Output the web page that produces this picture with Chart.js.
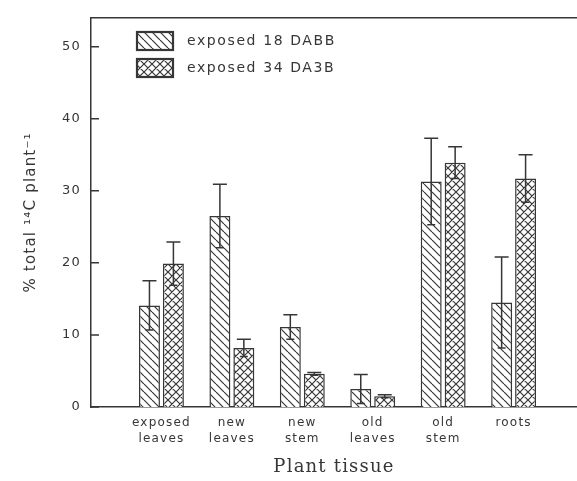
<!DOCTYPE html>
<html>
<head>
<meta charset="utf-8">
<script src="https://cdn.jsdelivr.net/npm/chart.js@4.4.1/dist/chart.umd.min.js"></script>
<style>
  html, body { margin: 0; background: #fff; }
  canvas { display: block; }
</style>
</head>
<body>
<canvas id="tissueChart" width="577" height="481"></canvas>
<script>
const tissues = [['exposed', 'leaves'], ['new', 'leaves'], ['new', 'stem'], ['old', 'leaves'], ['old', 'stem'], 'roots'];
const seriesNames = ['exposed 18 DABB', 'exposed 34 DA3B'];
const mean18 = [14.1, 26.5, 11.1, 2.5, 31.3, 14.5];
const err18 = [3.4, 4.4, 1.7, 2.0, 6.0, 6.3];
const mean34 = [19.9, 8.2, 4.6, 1.5, 33.9, 31.7];
const err34 = [3.0, 1.2, 0.2, 0.2, 2.2, 3.3];
const yTicks = [0, 10, 20, 30, 40, 50];

const INK = '#363636';

// hatch fills: "\" for 18 DABB, crosshatch for 34 DA3B
function makePattern(cross) {
  const s = 8;
  const c = document.createElement('canvas');
  c.width = c.height = s;
  const g = c.getContext('2d');
  g.fillStyle = '#fff';
  g.fillRect(0, 0, s, s);
  g.strokeStyle = INK;
  g.lineWidth = 1.2;
  g.beginPath();
  for (const k of [-s, 0, s]) {
    g.moveTo(k, 0); g.lineTo(k + s, s);
    if (cross) { g.moveTo(k, s); g.lineTo(k + s, 0); }
  }
  g.stroke();
  return g.createPattern(c, 'repeat');
}
const hatch = makePattern(false);
const crossHatch = makePattern(true);

const errorBars = {
  id: 'errorBars',
  afterDatasetsDraw(chart) {
    const { ctx, scales: { y } } = chart;
    ctx.save();
    ctx.strokeStyle = INK;
    ctx.lineWidth = 1.5;
    chart.data.datasets.forEach((ds, di) => {
      chart.getDatasetMeta(di).data.forEach((bar, i) => {
        const v = ds.data[i].y, e = ds.errors[i];
        const top = y.getPixelForValue(v + e);
        const bot = y.getPixelForValue(v - e);
        ctx.beginPath();
        ctx.moveTo(bar.x, top); ctx.lineTo(bar.x, bot);
        ctx.moveTo(bar.x - 7, top); ctx.lineTo(bar.x + 7, top);
        ctx.moveTo(bar.x - 4, bot); ctx.lineTo(bar.x + 4, bot);
        ctx.stroke();
      });
    });
    ctx.restore();
  },
};

const frame = {
  id: 'frame',
  beforeDraw(chart) {
    chart.ctx.letterSpacing = '1.2px';
  },
  afterDraw(chart) {
    const { ctx, chartArea: a, scales: { y } } = chart;
    ctx.save();
    ctx.strokeStyle = INK;
    ctx.lineWidth = 1.5;
    ctx.beginPath();
    ctx.moveTo(a.left, a.top); ctx.lineTo(a.right, a.top);
    yTicks.forEach(v => {
      const py = y.getPixelForValue(v);
      ctx.moveTo(a.left, py); ctx.lineTo(a.left + 8, py);
    });
    ctx.stroke();

    // legend in the upper left of the plot
    ctx.letterSpacing = '1.6px';
    ctx.font = '14px "DejaVu Sans"';
    ctx.textBaseline = 'middle';
    chart.data.datasets.forEach((ds, i) => {
      const by = 32 + i * 27;
      ctx.fillStyle = ds.backgroundColor;
      ctx.fillRect(137, by, 36, 18);
      ctx.lineWidth = 2.2;
      ctx.strokeRect(137, by, 36, 18);
      ctx.fillStyle = INK;
      ctx.fillText(ds.label, 187, by + 9.5);
    });
    ctx.restore();
  },
};

new Chart(document.getElementById('tissueChart'), {
  type: 'bar',
  data: {
    datasets: [
      {
        label: seriesNames[0],
        data: mean18.map((v, i) => ({ x: i + 1, y: v })),
        errors: err18,
        backgroundColor: hatch,
        borderColor: INK,
        borderWidth: 1.5,
      },
      {
        label: seriesNames[1],
        data: mean34.map((v, i) => ({ x: i + 1, y: v })),
        errors: err34,
        backgroundColor: crossHatch,
        borderColor: INK,
        borderWidth: 1.5,
      },
    ],
  },
  options: {
    responsive: false,
    animation: false,
    devicePixelRatio: 1,
    categoryPercentage: 0.68,
    barPercentage: 0.875,
    layout: { padding: { top: 11, right: 0, bottom: 0, left: 0 } },
    plugins: {
      legend: { display: false },
      tooltip: { enabled: false },
    },
    scales: {
      x: {
        type: 'linear',
        offset: false,
        min: 0,
        max: 6.9,
        afterBuildTicks: s => { s.ticks = tissues.map((_, i) => ({ value: i + 1 })); },
        afterFit: s => { s.height = 74; },
        grid: { display: false, drawTicks: false, offset: false },
        border: { color: INK, width: 1.5 },
        ticks: {
          callback: v => tissues[v - 1],
          autoSkip: false,
          maxRotation: 0,
          padding: 7,
          color: INK,
          font: { family: 'DejaVu Sans', size: 12, lineHeight: 1.4 },
        },
        title: {
          display: true,
          text: 'Plant tissue',
          color: INK,
          padding: 3,
          font: { family: 'DejaVu Serif', size: 18 },
        },
      },
      y: {
        min: 0,
        max: 54,
        afterBuildTicks: s => { s.ticks = yTicks.map(v => ({ value: v })); },
        afterFit: s => { s.width = 91; },
        grid: { display: false, drawTicks: false },
        border: { color: INK, width: 1.5 },
        ticks: {
          padding: 10,
          color: INK,
          font: { family: 'DejaVu Sans', size: 13 },
        },
        title: {
          display: true,
          text: '% total ¹⁴C plant⁻¹',
          color: INK,
          padding: 22,
          font: { family: 'DejaVu Sans', size: 15 },
        },
      },
    },
  },
  plugins: [errorBars, frame],
});
</script>
</body>
</html>
